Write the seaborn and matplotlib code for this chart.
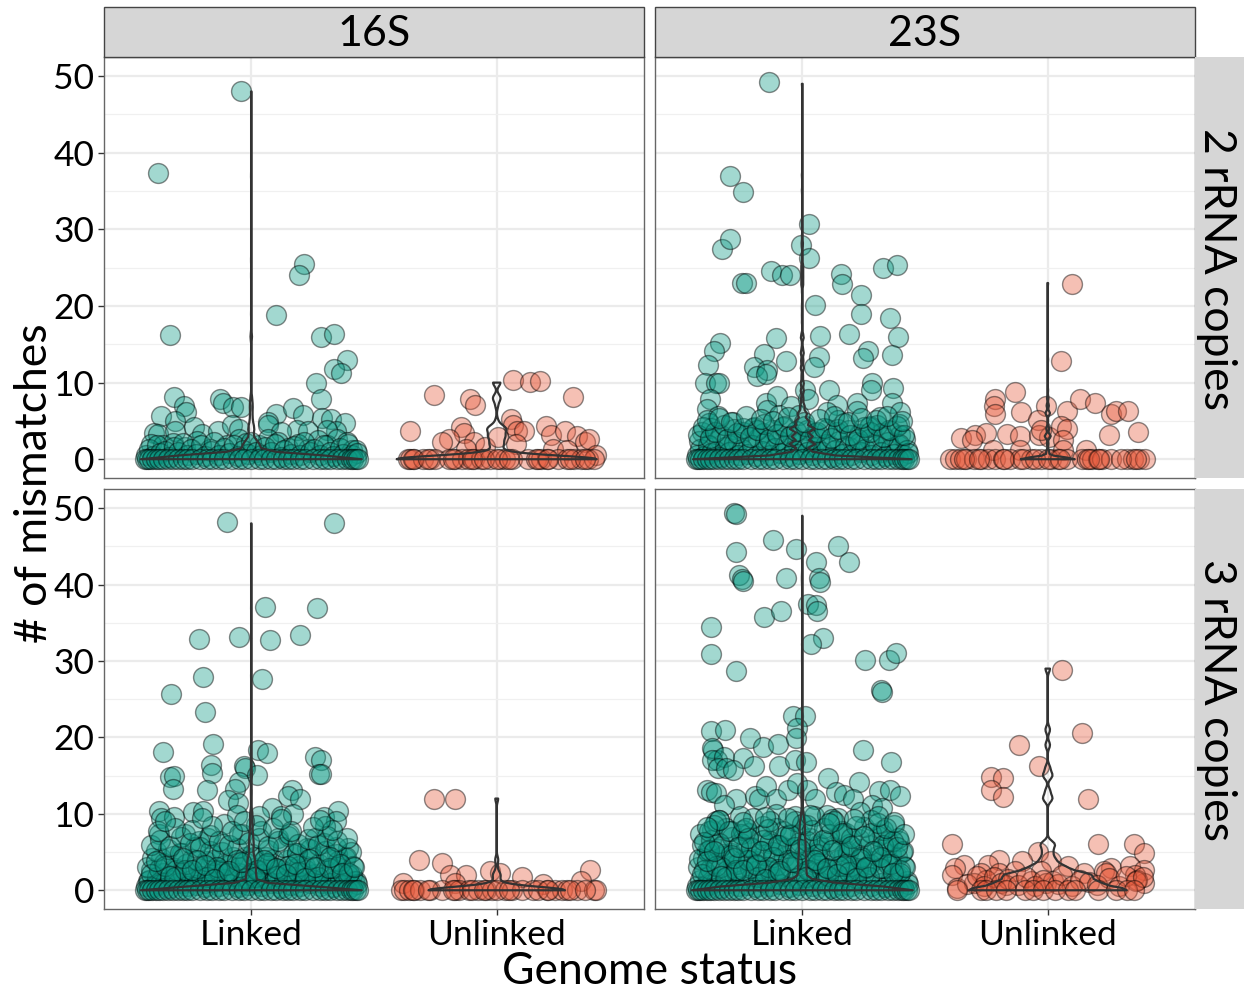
#!/usr/bin/env python3
import numpy as np
import matplotlib
matplotlib.use('Agg')
import matplotlib.pyplot as plt
from matplotlib.colors import to_rgba
from matplotlib.patches import Rectangle
import seaborn as sns

# x = horizontal jitter around the group centre, y = mismatches
a_linked_x = [-0.38,-0.04,-0.33,0.215,0.195,0.10,0.284,0.337,0.388,0.337,0.367,0.263,0.286,-0.316,-0.275,-0.267,-0.366,-0.31,-0.126,-0.115,-0.073,-0.04,0.10,0.17,0.21,0.29,0.325,0.38,0.346,-0.397,-0.38,-0.31,-0.233,-0.2,-0.135,-0.08,-0.05,0.067,0.07,0.185,0.23,0.12,0.31,-0.41,-0.36,-0.32,-0.27,-0.22,-0.17,-0.1,-0.05,-0.02,0.03,0.07,0.11,0.15,0.19,0.23,0.27,0.31,0.35,0.39,0.41]
a_linked_y = [37.3,48,16.2,25.5,24,18.8,16,16.4,13,11.8,11.2,10,7.9,8.1,6.9,6.1,5.7,5,7.8,7.3,6.8,6.8,5.9,6.7,5.8,5.4,5.3,4.7,3.7,3.4,3.3,3.7,4.2,3.3,3.7,4.5,4,4.9,4.5,3.8,3.7,3.6,3.8,2,1.8,2.1,1.6,2.4,1.4,1.9,2.6,2.1,1.8,2.7,2.2,1.5,2,1.3,2.5,1.9,2.6,2.2,1.2]
a_unlinked_x = [-0.353,-0.256,-0.109,-0.087,0.066,0.137,0.176,0.311,-0.147,-0.133,-0.196,-0.221,-0.091,-0.049,0.06,0.066,0.084,0.112,0.007,0.077,0.2,0.223,0.279,0.328,0.36,0.377,-0.126,0.23,0.286,0.405]
a_unlinked_y = [3.7,8.4,7.8,7.1,10.3,10.1,10.2,8.1,4.2,3.4,2.7,2.3,2.3,1.6,5.2,4.5,3.7,3.7,2.9,2,4.3,3.1,3.7,3,2.3,2.7,1.4,1.4,1.2,0.6]
a_unlinked_zero_x = [-0.363,-0.352,-0.335,-0.3,-0.272,-0.251,-0.196,-0.168,-0.14,-0.119,-0.091,-0.063,-0.028,0.014,0.035,0.063,0.126,0.161,0.182,0.203,0.251,0.286,0.314,0.342,0.37,0.398]

b_linked_x = [-0.134,-0.296,-0.243,-0.329,-0.296,-0.247,-0.23,-0.126,-0.081,-0.049,0.028,-0.004,0.028,0.158,0.162,0.239,0.329,0.385,0.05,0.239,0.359,-0.335,-0.359,-0.108,0.074,0.19,0.388,-0.154,-0.383,-0.066,0.067,0.267,0.246,0.365,-0.198,-0.142,-0.184,-0.149,0.049,-0.397,-0.352,-0.338,0.013,0.109,0.286,0.281,0.37,-0.377,-0.387,-0.345,-0.147,-0.102,-0.142,-0.094,-0.045,0.025,-0.013,0.141,0.099,0.223,0.221,0.367,0.398,0.144,0.318,0.277,0.395,-0.198,-0.282,-0.38,-0.41,-0.37,-0.33,-0.28,-0.24,-0.2,-0.16,-0.12,-0.08,-0.04,0.02,0.05,0.1,0.14,0.19,0.23,0.27,0.32,0.36,0.4,-0.42,-0.38,-0.34,-0.3,-0.26,-0.22,-0.18,-0.14,-0.1,-0.06,-0.02,0.03,0.07,0.11,0.15,0.19,0.23,0.27,0.31,0.35,0.39,0.42]
b_linked_y = [49.3,37,34.9,27.5,28.7,23,23,24.6,24.1,24,30.7,28,26.2,24.2,22.9,21.5,25,25.3,20.1,19,18.4,15.2,14.1,15.8,16.1,16.3,15.9,13.8,12.3,12.8,13.3,14.1,13.2,13.6,12,11.7,10.9,11.1,12.1,9.9,10,10,9.1,9.1,10,9,9.3,7.8,6.6,5.7,7.3,8.2,6.4,5.8,6.9,7.8,5.8,7.1,6.2,7.4,6.3,7.3,6.2,5.1,5.5,4.3,4.6,4.2,4.8,4.7,3.6,4.1,3.2,3.9,3.5,4.1,3.4,3.8,4.2,3.2,3.8,3.4,3.9,3.5,3.8,3.3,4.2,3.4,3.7,3.1,2.4,1.9,2.6,1.8,2.3,1.6,2.8,1.9,2.5,1.5,2.3,1.7,2.6,1.9,2.4,1.6,2.1,2.7,1.7,2.3,1.9,2.6]
b_unlinked_x = [0.097,0.053,-0.135,-0.216,-0.22,-0.216,-0.109,-0.007,0.08,0.133,0.191,0.258,0.277,0.325,-0.039,0.249,0.366,-0.353,-0.296,-0.251,-0.307,-0.166,-0.112,-0.035,0.007,0.056,0.08,0.063,-0.028,-0.223,-0.112,0.063,0.154]
b_unlinked_y = [22.9,12.8,8.8,7.9,6.9,5.9,6.1,6.9,6.3,7.9,7.3,5.9,6.3,6.3,5.1,3.1,3.6,2.8,3.2,3.4,2.5,3.3,3,3.1,2.9,4.3,3.9,2.5,3.8,1.2,1.2,1.2,1.2]
b_unlinked_zero_x = [-0.398,-0.377,-0.356,-0.335,-0.3,-0.272,-0.244,-0.216,-0.182,-0.154,-0.112,-0.07,-0.028,0.014,0.042,0.077,0.14,0.161,0.182,0.203,0.223,0.258,0.321,0.349,0.37,0.398]

c_linked_x = [-0.097,0.337,0.057,0.268,-0.049,-0.211,0.077,0.199,-0.195,0.045,-0.325,-0.187,-0.154,-0.359,0.029,0.063,0.258,0.286,-0.331,-0.313,-0.317,-0.163,-0.16,-0.031,-0.024,0.025,0.277,0.286,-0.182,-0.049,-0.066,0.165,0.148,0.197,-0.094,-0.056,0.085,-0.377,-0.366,-0.313,-0.236,-0.198,-0.11,-0.059,0.032,0.12,0.172,0.295,0.353,0.346,0.302,-0.377,-0.268,-0.177,-0.212,-0.115,-0.038,0.039,0.109,0.148,0.258,0.297,0.395,-0.366,-0.282,-0.156,-0.024,0.06,0.186,0.228,0.349,0.381,-0.41,-0.36,-0.31,-0.25,-0.21,-0.18,-0.13,-0.09,-0.05,0.01,0.04,0.09,0.13,0.17,0.22,0.26,0.3,0.35,0.39,0.41,-0.42,-0.38,-0.33,-0.28,-0.23,-0.19,-0.14,-0.09,-0.04,0.02,0.06,0.11,0.16,0.2,0.25,0.29,0.34,0.38,0.42]
c_linked_y = [48.2,48,37,36.9,33.2,32.9,32.7,33.4,27.9,27.6,25.7,23.3,19.1,18.1,18.3,17.9,17.4,17,14.8,15,13.3,16.4,15.3,16.3,16,15.1,15.2,15.2,13.1,14.2,13.3,13.1,12.3,12,11.8,11.4,10.7,10.4,9.4,9.6,10.2,10.4,8.7,9.9,9.7,9.7,10,9.6,10.4,9,8.4,7.3,7.3,6.8,6.4,6,7.3,7.7,6.8,7.1,6.8,6.2,5.5,4.2,4.9,4,4.3,4.4,4.9,5.5,4.7,4.2,2.7,2.3,2.9,2.4,1.9,3.1,2.6,3.3,2.2,2.9,2.1,3,2.3,2.8,3.2,2.1,2.7,3.1,2.4,2,1.2,0.9,1.4,1,1.5,0.9,1.2,1.3,1,1.1,1.4,0.9,1.3,1.1,1.4,1,1.3,0.9,1.2]
c_unlinked_x = [-0.256,-0.172,-0.318,-0.223,0.38,-0.028,0.014,-0.189,-0.126,0.102,-0.38,-0.168,0.342,0.189]
c_unlinked_y = [11.9,12,4,3.6,2.6,2.5,2.3,2,2,1.8,1,1,1.2,0.8]
c_unlinked_zero_x = [-0.391,-0.377,-0.356,-0.335,-0.314,-0.272,-0.223,-0.168,-0.154,-0.112,-0.077,-0.042,-0.021,0.035,0.063,0.105,0.147,0.203,0.237,0.265,0.286,0.328,0.398,0.405]

d_linked_x = [-0.28,-0.272,-0.268,-0.118,-0.024,0.146,0.057,0.19,0.069,0.073,-0.256,-0.247,-0.243,-0.065,-0.373,-0.373,-0.272,-0.154,-0.085,0.024,0.057,0.061,0.085,0.037,0.256,0.353,0.381,0.32,0.325,-0.373,-0.316,-0.365,-0.349,-0.211,-0.158,-0.097,-0.037,0.012,-0.02,-0.024,0.249,0.36,-0.366,-0.366,-0.317,-0.24,-0.345,-0.31,-0.282,-0.198,-0.094,-0.031,0.015,0.106,0.23,-0.387,-0.373,-0.352,-0.272,-0.191,-0.177,-0.147,-0.108,-0.059,-0.021,0.018,0.053,0.137,0.172,0.207,0.311,0.356,0.398,0.283,0.325,0.235,-0.317,-0.338,-0.254,-0.108,-0.031,0.046,0.102,0.144,0.374,-0.366,-0.289,-0.219,-0.108,-0.01,0.179,0.325,-0.415,-0.135,-0.087,0.067,0.183,0.395,-0.38,-0.317,-0.219,0.36,0.283,0.228,0.095,-0.38,-0.282,-0.191,-0.115,0.158,0.381,0.032]
d_linked_y = [49.3,49.2,44.3,45.8,44.7,45.1,43,42.9,40.9,40.3,41.2,40.7,40.4,40.8,34.4,30.9,28.7,35.8,36.6,37.5,37.3,36.5,33,32.2,30.1,30.1,31.1,26.2,25.9,20.8,21,18.3,17,19.9,18.7,19.1,22.8,22.8,21.2,19.9,18.3,16.8,18.6,17,17.5,17.3,16,16,15.7,16.2,16.2,17,16.8,14.7,14.2,13.1,12.8,12.7,11.9,12.3,12,13.6,11.9,13.1,14,13.1,12,12.9,12.5,11.9,13,13.1,12.3,11.2,10.7,10.3,11.2,9.2,9.7,10,9.7,9.7,9.9,9.4,8.6,7.9,7.7,7.5,8.1,7.3,7.5,7.3,7.3,6.2,5.7,6,5.1,6.4,4.9,4.7,4.2,4.7,3.8,2.9,2.9,2,3.3,2.5,1.8,1.4,2,4.2]
d_unlinked_x = [0.057,0.138,-0.118,-0.035,-0.233,-0.182,-0.23,-0.182,0.165,-0.392,0.205,0.352,0.391,-0.038,-0.2,-0.242,-0.342,-0.377,-0.105,0.014,0.084,0.258,0.335,0.391,0.23,0.391,-0.39,-0.27,-0.2,-0.133,-0.028,0.147,0.356,0.237,-0.37,-0.3,-0.251,-0.168,-0.07,-0.007,0.021,0.363,-0.33,-0.29,-0.26,-0.22,-0.19,-0.16,-0.12,-0.09,-0.05,-0.02,0.04,0.06,0.1,0.13,0.17,0.2,0.25,0.29,0.32,0.36,0.39]
d_unlinked_y = [28.8,20.6,19,16.2,14.8,14.7,13.1,12.2,11.9,6.1,6.1,6.1,4.9,5,4,3.3,3.3,2.9,3.8,3.8,3.2,2.9,3.2,2.7,2.5,1,2,2.3,2.3,2.5,2.5,2.3,2,2.3,0.3,1,1.4,0.7,1.2,1,1.2,1.4,0.8,1.9,0.6,1.7,0.9,1.5,0.7,1.8,0.5,1.3,0.8,2,0.6,1.4,1.1,0.7,1.6,0.5,1.9,1.2,1.7]
d_unlinked_zero_x = [-0.37,-0.272,-0.25,-0.21,-0.17,-0.091,-0.06,-0.02,0.03,0.084,0.112,0.203,0.279,0.321,0.35]

# overplotted layers of the teal clouds
linked_zero_x = [-0.435,-0.425,-0.415,-0.405,-0.39,-0.375,-0.36,-0.34,-0.32,-0.3,-0.28,-0.26,-0.24,-0.21,-0.18,-0.16,-0.13,-0.11,-0.08,-0.05,-0.03,0,0.03,0.05,0.08,0.1,0.13,0.15,0.17,0.2,0.22,0.25,0.28,0.3,0.32,0.35,0.37,0.39,0.405,0.415,0.425,0.435]
dense_low_x = [-0.43,-0.415,-0.4,-0.385,-0.37,-0.35,-0.335,-0.315,-0.3,-0.28,-0.26,-0.245,-0.225,-0.205,-0.19,-0.165,-0.15,-0.13,-0.11,-0.09,-0.07,-0.055,-0.035,-0.015,0,0.02,0.04,0.055,0.08,0.095,0.12,0.135,0.16,0.175,0.2,0.215,0.24,0.255,0.28,0.295,0.32,0.335,0.36,0.375,0.395,0.41,0.425,0.43]
dense_low_y = [0.6,1.3,0.4,1.8,0.8,1.1,0.3,1.6,0.9,2.1,0.5,1.3,0.7,1.9,0.4,1.1,2.2,0.6,1.5,0.8,1.9,0.4,1.2,0.7,2.3,0.9,0.5,1.6,1,2,0.3,1.2,0.7,1.7,0.5,2.2,0.9,1.4,0.6,1.8,1,0.4,1.5,0.7,2,0.5,1.2,0.8]
dense_mid_x = [-0.425,-0.405,-0.375,-0.355,-0.32,-0.305,-0.265,-0.24,-0.215,-0.185,-0.155,-0.135,-0.105,-0.075,-0.05,-0.025,0.01,0.03,0.06,0.09,0.115,0.145,0.17,0.195,0.225,0.25,0.275,0.305,0.33,0.355,0.385,0.415,-0.39,-0.34,-0.29,-0.23,-0.17,-0.12,-0.06,0.005,0.07,0.13,0.185,0.24,0.3,0.345,0.405]
dense_mid_y = [3.1,4.2,2.8,3.6,4.5,2.6,3.4,4.1,2.9,3.8,4.6,2.7,3.3,4.3,3,3.7,4.4,2.6,3.5,4.1,2.8,3.9,4.7,3.2,2.7,4.2,3.5,4.5,2.9,3.8,4.4,3.2,5.1,5.4,4.9,5.6,5.2,5,5.5,4.8,5.3,5.7,4.9,5.4,5.1,5.6,5]
dense_upper_x = [-0.41,-0.37,-0.33,-0.285,-0.25,-0.21,-0.17,-0.13,-0.09,-0.05,-0.01,0.03,0.07,0.11,0.155,0.19,0.23,0.27,0.31,0.35,0.39,-0.38,-0.31,-0.24,-0.16,-0.08,0.02,0.09,0.16,0.25,0.33,-0.35,-0.2,-0.03,0.12,0.28]
dense_upper_y = [5.9,6.6,5.8,7,6.2,5.7,7.2,6.4,5.9,7.4,6.3,6.9,5.8,6.5,7.3,6.1,6.7,5.9,7.1,6.4,6.8,7.8,8.1,7.9,8.4,7.7,8.6,8.2,7.8,8.3,7.9,9.1,9.4,9,9.3,9.2]
dense_top_x = [-0.42,-0.38,-0.34,-0.29,-0.25,-0.21,-0.16,-0.12,-0.07,-0.03,0.02,0.06,0.11,0.15,0.2,0.24,0.28,0.33,0.37,0.41,-0.4,-0.33,-0.27,-0.19,-0.1,-0.02,0.08,0.17,0.26,0.35,0.4,-0.36,-0.23,-0.13,0,0.13,0.22,0.31]
dense_top_y = [4.1,5.3,6.2,4.6,7.4,5.5,6.6,4.3,7.1,5.7,6.4,4.8,7.3,5.2,6.8,4.4,7.5,5.9,6.5,5.1,2.6,3.1,2.4,3.4,2.8,3.6,2.5,3.2,2.9,3.5,2.7,8.5,8.2,9,8.7,9.1,8.4,8.8]
dense_fill_x = [-0.41,-0.35,-0.31,-0.27,-0.22,-0.18,-0.14,-0.1,-0.06,-0.02,0.025,0.065,0.105,0.15,0.19,0.235,0.27,0.315,0.36,0.4,-0.39,-0.33,-0.28,-0.24,-0.19,-0.15,-0.09,-0.04,0.015,0.05,0.1,0.14,0.18,0.22,0.26,0.32,0.37,0.42]
dense_fill_y = [2.1,3.2,1.7,2.6,4,1.8,3,2.3,3.9,1.6,2.7,3.6,1.9,3.2,2.4,4.1,1.7,2.9,3.5,2.2,3.8,1.9,4.2,2.7,3.3,1.5,2.5,3.7,1.8,4,2.9,2.1,3.4,1.6,3,4.3,2.3,3.1]
d_cloud_x = [-0.4,-0.36,-0.3,-0.26,-0.22,-0.17,-0.14,-0.1,-0.05,-0.01,0.04,0.085,0.12,0.16,0.2,0.25,0.29,0.34,0.385,-0.34,-0.24,-0.15,-0.06,0.03,0.11,0.21,0.31,0.375,0.415,-0.39]
d_cloud_y = [6.3,5.2,7.8,5.6,6.9,5.1,8,5.9,7.2,5.4,7.9,6.6,5.3,7.5,5.8,7.1,5.2,8.1,5.7,9.2,8.9,9.6,9.4,9.8,8.8,9.3,9.7,8.9,7.4,8.3]
red_zero_x = [-0.34,-0.28,-0.18,-0.1,-0.05,0,0.05,0.17,0.21,0.3,0.36]

# observations at zero that are hidden under the visible row, needed for the violin shape
hidden_zero_counts = [[400, 45], [220, 35], [1000, 60], [1400, 15]]
violin_widths = [[0.90, 0.815], [0.89, 0.22], [0.90, 0.556], [0.90, 0.645]]
violin_bw = [[0.14, 0.20], [0.05, 0.08], [0.11, 0.26], [0.11, 0.09]]

status_labels = ['Linked', 'Unlinked']
rna_labels = ['16S', '23S']
copy_labels = ['2 rRNA copies', '3 rRNA copies']
y_ticks = [0, 10, 20, 30, 40, 50]

panel_linked = [
    (a_linked_x + dense_low_x, a_linked_y + dense_low_y, linked_zero_x),
    (b_linked_x + dense_low_x + dense_mid_x, b_linked_y + dense_low_y + dense_mid_y, linked_zero_x),
    (c_linked_x + dense_low_x + dense_mid_x + dense_upper_x + dense_fill_x,
     c_linked_y + dense_low_y + dense_mid_y + dense_upper_y + dense_fill_y, linked_zero_x),
    (d_linked_x + dense_low_x + dense_mid_x + dense_upper_x + dense_top_x + dense_fill_x + d_cloud_x,
     d_linked_y + dense_low_y + dense_mid_y + dense_upper_y + dense_top_y + dense_fill_y + d_cloud_y, linked_zero_x),
]
panel_unlinked = [
    (a_unlinked_x, a_unlinked_y, a_unlinked_zero_x + red_zero_x),
    (b_unlinked_x, b_unlinked_y, b_unlinked_zero_x + red_zero_x),
    (c_unlinked_x, c_unlinked_y, c_unlinked_zero_x + red_zero_x),
    (d_unlinked_x, d_unlinked_y, d_unlinked_zero_x),
]

TEAL = '#0C9A84'
RED = '#E75A3C'
W, H = 1244, 991

sns.set_theme(style='white')
plt.rcParams['font.family'] = ['Lato', 'DejaVu Sans']
plt.rcParams['text.color'] = 'black'

fig = plt.figure(figsize=(W / 100, H / 100), dpi=100)


def add_panel(left, top, right, bottom):
    return fig.add_axes([left / W, 1 - bottom / H, (right - left) / W, (bottom - top) / H])


boxes = [(104, 57, 644, 478), (655, 57, 1195, 478), (104, 489, 644, 909), (655, 489, 1195, 909)]

for p, box in enumerate(boxes):
    ax = add_panel(*box)
    for g, (group, col) in enumerate([(panel_linked[p], TEAL), (panel_unlinked[p], RED)]):
        xs, ys, zero_x = group
        px = np.concatenate([xs, zero_x]) + g
        py = np.concatenate([ys, np.zeros(len(zero_x))])
        sns.scatterplot(x=px, y=py, ax=ax, s=205, color=to_rgba(col, 0.38),
                        edgecolor=(0, 0, 0, 0.45), linewidth=1.0, legend=False, zorder=3)
        vals = np.concatenate([np.round(py), np.zeros(hidden_zero_counts[p][g])])
        sns.violinplot(x=np.full(len(vals), g), y=vals, ax=ax, native_scale=True, orient='x',
                       fill=False, inner=None, cut=0, density_norm='width',
                       width=violin_widths[p][g], bw_method=violin_bw[p][g],
                       color='#333333', linewidth=1.6, zorder=4)
    ax.set_xlim(-0.6, 1.6)
    ax.set_ylim(-2.45, 52.5)
    ax.set_xticks([0, 1])
    ax.set_yticks(y_ticks)
    ax.set_yticks([5, 15, 25, 35, 45], minor=True)
    ax.set_xlabel('')
    ax.set_ylabel('')
    ax.set_axisbelow(True)
    ax.grid(True, which='major', color='#EBEBEB', lw=1.6)
    ax.grid(True, which='minor', axis='y', color='#F0F0F0', lw=0.9)
    ax.tick_params(axis='both', which='major', length=4, width=1, color='#333333',
                   left=p in (0, 2), bottom=p in (2, 3), labelsize=25.5, labelcolor='black', pad=3)
    ax.tick_params(axis='y', which='minor', length=0)
    ax.set_xticklabels(status_labels if p >= 2 else [])
    ax.set_yticklabels(y_ticks if p in (0, 2) else [])
    for s in ax.spines.values():
        s.set_color('#666666')
        s.set_linewidth(1.0)

for i, (left, right) in enumerate([(104, 644), (655, 1195)]):
    fig.add_artist(Rectangle((left / W, 1 - 57 / H), (right - left) / W, 50 / H, transform=fig.transFigure,
                             facecolor='#D6D6D6', edgecolor='#444444', lw=1))
    fig.text((left + right) / 2 / W, 1 - 34 / H, rna_labels[i], ha='center', va='center', fontsize=31)

for i, (top, bottom) in enumerate([(57, 478), (489, 909)]):
    fig.add_artist(Rectangle((1195 / W, 1 - bottom / H), 49 / W, (bottom - top) / H, transform=fig.transFigure,
                             facecolor='#D6D6D6', edgecolor='none'))
    fig.text(1217 / W, 1 - ((top + bottom) / 2 + 1) / H, copy_labels[i], rotation=-90, ha='center', va='center', fontsize=32)

fig.text(650 / W, 1 - 971 / H, 'Genome status', ha='center', va='center', fontsize=32)
fig.text(35 / W, 1 - 483 / H, '# of mismatches', rotation=90, ha='center', va='center', fontsize=32)

fig.savefig('out.png', dpi=100)
